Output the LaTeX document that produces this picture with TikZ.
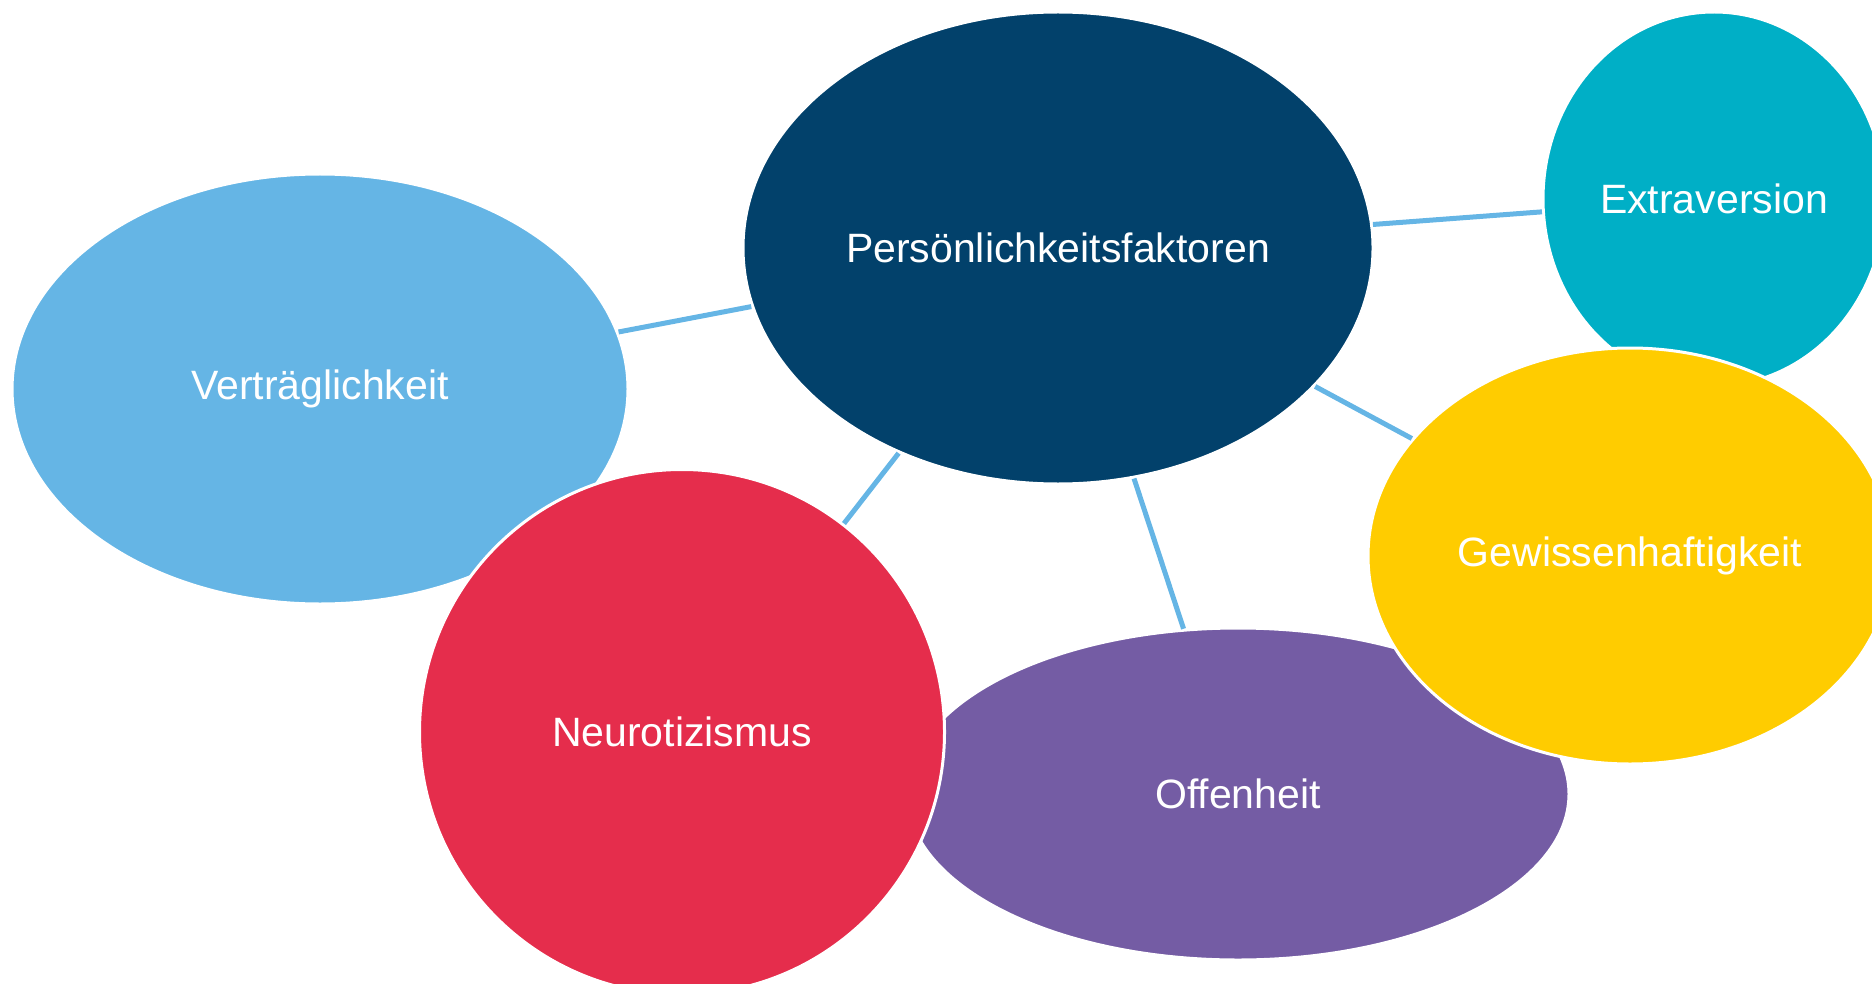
\documentclass[tikz,border=0pt]{standalone}
\usepackage{fontspec}
\setmainfont{Liberation Sans}
\usetikzlibrary{shapes.geometric}
\definecolor{cnavy}{HTML}{02416B}
\definecolor{clight}{HTML}{65B5E5}
\definecolor{cred}{HTML}{E52D4C}
\definecolor{cpurple}{HTML}{745CA4}
\definecolor{cyellow}{HTML}{FFCC00}
\definecolor{cteal}{HTML}{00AFC6}
\definecolor{clink}{HTML}{65B5E5}
\begin{document}
\begin{tikzpicture}[x=0.5pt,y=-0.5pt,
  blob/.style={ellipse, draw=white, line width=1.5pt, inner sep=0pt, text=white,
    font=\fontsize{20.5}{24}\selectfont},
  link/.style={draw=clink, line width=2.5pt}]
\useasboundingbox (0,0) rectangle (1872,984);
\clip (0,0) rectangle (1872,984);
\node[blob, fill=cteal, minimum width=171pt, minimum height=187pt] (ex) at (1714,199) {Extraversion};
\node[blob, fill=cpurple, minimum width=331pt, minimum height=166pt] (of) at (1238,794) {Offenheit};
\node[blob, fill=clight, minimum width=308pt, minimum height=215pt] (ve) at (320,389) {Verträglichkeit};
\node[blob, fill=cnavy, minimum width=315pt, minimum height=236pt] (pf) at (1058,248) {Persönlichkeitsfaktoren};
\node[blob, fill=cyellow, minimum width=262pt, minimum height=208pt] (ge) at (1630,556) {Gewissenhaftigkeit};
\node[blob, fill=cred, minimum width=262.5pt, minimum height=262.5pt] (ne) at (682,732) {Neurotizismus};
\draw[link] (pf) -- (ve);
\draw[link] (pf) -- (ex);
\draw[link] (pf) -- (ge);
\draw[link] (pf) -- (of);
\draw[link] (pf) -- (ne);
\end{tikzpicture}
\end{document}
